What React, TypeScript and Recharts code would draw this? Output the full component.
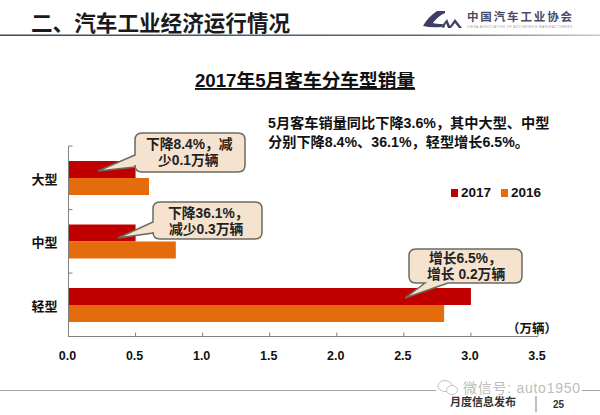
import { BarChart, Bar, XAxis, YAxis, Legend } from 'recharts'

const CATEGORIES = ['大型', '中型', '轻型']
const SALES_2017 = [0.5, 0.5, 3.0]
const SALES_2016 = [0.6, 0.8, 2.8]
const X_TICKS = [0, 0.5, 1, 1.5, 2, 2.5, 3, 3.5]
const NOTE_LINES = [
  '5月客车销量同比下降3.6%，其中大型、中型',
  '分别下降8.4%、36.1%，轻型增长6.5%。',
]

const CHART_DATA = CATEGORIES.map((name, i) => ({
  name,
  y2017: SALES_2017[i],
  y2016: SALES_2016[i],
}))

const FONT = '"Liberation Sans", "Noto Sans CJK SC", sans-serif'
const RED = '#c00000'
const ORANGE = '#e46c0a'
const BAND = 63.4

// y axis ticks sit on the category boundaries, not the centres
function CategoryTick({ x, y, payload }: any) {
  return (
    <g>
      <line x1={x} x2={x + 4} y1={y - BAND / 2} y2={y - BAND / 2} stroke="#808080" />
      <text x={x - 11} y={y + 6} textAnchor="end" fontSize={13} fontWeight={700} fontFamily={FONT} fill="#111">
        {payload.value}
      </text>
    </g>
  )
}

function LegendRow() {
  return (
    <div style={{ display: 'flex', fontFamily: FONT, fontSize: 13.5, fontWeight: 700, color: '#111', lineHeight: '16px' }}>
      <span style={{ width: 7, height: 8, background: RED, margin: '4px 3px 0 0' }} />
      <span style={{ marginRight: 10 }}>2017</span>
      <span style={{ width: 7, height: 8, background: ORANGE, margin: '4px 3px 0 0' }} />
      <span>2016</span>
    </div>
  )
}

// rounded box with a pointer leaving either the left or the bottom edge
function Callout({ l, t, r, b, tip, from, to, side, lines }: any) {
  const c = 7
  const bottom = side === 'bottom' ? `H${to} L${tip[0]} ${tip[1]} L${from} ${b} ` : ''
  const left = side === 'left' ? `V${to} L${tip[0]} ${tip[1]} L${l} ${from} ` : ''
  const d =
    `M${l + c} ${t} H${r - c} Q${r} ${t} ${r} ${t + c} V${b - c} Q${r} ${b} ${r - c} ${b} ` +
    bottom +
    `H${l + c} Q${l} ${b} ${l} ${b - c} ` +
    left +
    `V${t + c} Q${l} ${t} ${l + c} ${t} Z`
  return (
    <g>
      <path d={d} fill="#f5e2cf" stroke="#6b6b60" strokeWidth={1.5} />
      {lines.map((line: any) => (
        <text key={line.s} x={line.x} y={line.y} fontSize={13.8} fontWeight={700} fontFamily={FONT} fill="#222">
          {line.s}
        </text>
      ))}
    </g>
  )
}

function SlideFrame() {
  return (
    <svg width={600} height={415} style={{ position: 'absolute', left: 0, top: 0 }}>
      <defs>
        <linearGradient id="rule" x1="0" x2="1" y1="0" y2="0">
          <stop offset="0" stopColor="#3a4a55" />
          <stop offset="0.7" stopColor="#5a6a72" />
          <stop offset="1" stopColor="#c5ccd0" />
        </linearGradient>
      </defs>
      <text x={31} y={31} fontSize={21.6} fontWeight={700} fontFamily={FONT} fill="#1a1a1a">二、汽车工业经济运行情况</text>
      <rect x={0} y={34.5} width={600} height={1.5} fill="url(#rule)" />
      {/* association logo */}
      <path d="M445 11 L437 11 Q428 17 423 26 Q431 28 441 27 L443 24 Q436 24 433 23 Q438 16 445 13 Z" fill="#3f3f66" />
      <path d="M441 27 L447 19 L450 26 L455 19 L462 28 L459 28 L455 23 L451 28 L448 28 L446 23 L444 28 Z" fill="#3f3f66" />
      <text x={467} y={21} fontSize={11.5} fontWeight={700} fontFamily={FONT} fill="#4a4a66" textLength={105}>中国汽车工业协会</text>
      <text x={467} y={27.5} fontSize={3} fontFamily={FONT} fill="#999" textLength={105}>CHINA ASSOCIATION OF AUTOMOBILE MANUFACTURERS</text>
      <text x={305} y={87} textAnchor="middle" fontSize={18.7} fontWeight={700} fontFamily={FONT} fill="#111" textDecoration="underline">2017年5月客车分车型销量</text>
      {NOTE_LINES.map((s, i) => (
        <text key={s} x={268} y={127.5 + i * 19.5} fontSize={14.2} fontWeight={700} fontFamily={FONT} fill="#111">{s}</text>
      ))}
      <Callout l={135} t={133} r={245} b={172} tip={[98, 171]} from={155} to={167} side="left"
        lines={[{ s: '下降8.4%，减', x: 146, y: 149 }, { s: '少0.1万辆', x: 158, y: 165 }]} />
      <Callout l={153} t={202} r={262} b={239} tip={[118, 238]} from={222} to={233} side="left"
        lines={[{ s: '下降36.1%，', x: 168, y: 218 }, { s: '减少0.3万辆', x: 169, y: 234 }]} />
      <Callout l={409} t={249} r={522} b={283} tip={[405, 298]} from={425} to={448} side="bottom"
        lines={[{ s: '增长6.5%，', x: 429, y: 263 }, { s: '增长 0.2万辆', x: 427, y: 279 }]} />
      <text x={507} y={333} fontSize={12.5} fontWeight={700} fontFamily={FONT} fill="#111">（万辆）</text>
      <rect x={0} y={390} width={600} height={1} fill="#a0a0a0" />
      <line x1={536} x2={536} y1={393} y2={412} stroke="#808080" />
      <text x={450} y={406} fontSize={11} fontWeight={700} fontFamily={FONT} fill="#333">月度信息发布</text>
      <text x={553} y={408} fontSize={10} fontWeight={700} fontFamily={FONT} fill="#333">25</text>
      {/* watermark */}
      <rect x={436} y={381} width={146} height={15} fill="#fff" />
      <ellipse cx={445} cy={386} rx={7} ry={5.5} fill="#fff" stroke="#c4c4c4" />
      <ellipse cx={452} cy={390} rx={5.5} ry={4.5} fill="#fff" stroke="#c4c4c4" />
      <text x={463} y={393} fontSize={14} fontFamily={FONT} fill="#bdbdbd" textLength={117}>微信号: auto1950</text>
    </svg>
  )
}

export default function App() {
  return (
    <div style={{ position: 'absolute', left: 0, top: 0, width: 600, height: 415, background: '#fff', overflow: 'hidden' }}>
      <BarChart
        width={600}
        height={415}
        layout="vertical"
        data={CHART_DATA}
        barGap={0}
        barCategoryGap={15}
        margin={{ top: 146, right: 62, bottom: 0, left: 0 }}
      >
        <XAxis
          type="number"
          domain={[0, 3.5]}
          ticks={X_TICKS}
          tickFormatter={(v: number) => v.toFixed(1)}
          height={78.5}
          tickSize={-4}
          tickMargin={19}
          stroke="#808080"
          tick={{ fontSize: 12.5, fontWeight: 700, fontFamily: FONT, fill: '#111', dx: -1 }}
        />
        <YAxis
          type="category"
          dataKey="name"
          width={68.5}
          tickLine={false}
          tickSize={0}
          tickMargin={0}
          stroke="#808080"
          tick={<CategoryTick />}
        />
        <Legend
          layout="horizontal"
          verticalAlign="middle"
          align="center"
          wrapperStyle={{ left: 451, top: 185, width: 100 }}
          content={<LegendRow />}
        />
        <Bar dataKey="y2017" name="2017" fill={RED} isAnimationActive={false} />
        <Bar dataKey="y2016" name="2016" fill={ORANGE} isAnimationActive={false} />
      </BarChart>
      <SlideFrame />
    </div>
  )
}
